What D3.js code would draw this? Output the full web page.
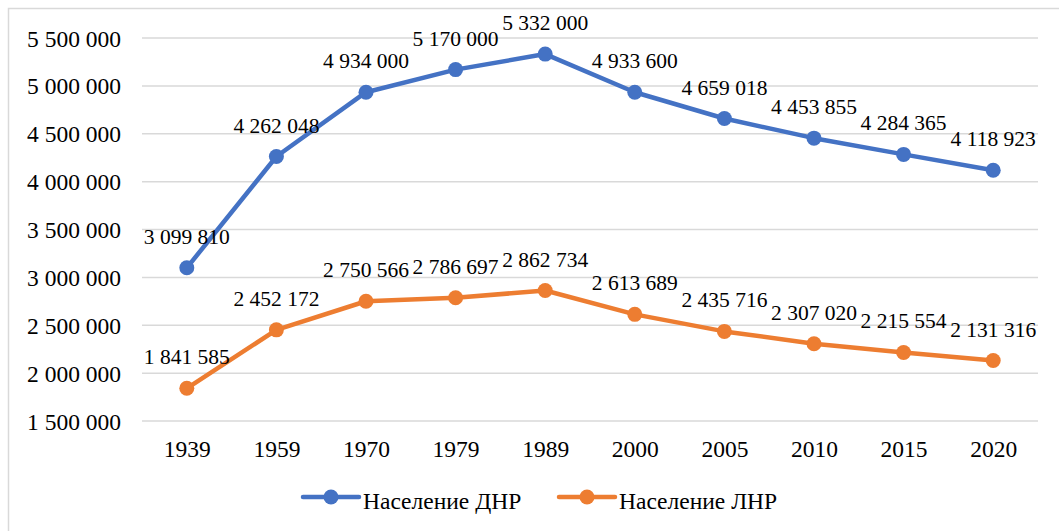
<!DOCTYPE html>
<html><head><meta charset="utf-8">
<script src="https://cdn.jsdelivr.net/npm/d3@7"></script>
<style>body{margin:0;background:#fff;font-family:'Liberation Serif',serif}svg{display:block}</style>
</head><body><svg id="c" width="1059" height="531" font-family="Liberation Serif"><g id="bg"></g><g id="legend"><text class="lg" font-family="Liberation Serif" font-size="23.5">Население ДНР</text><text class="lg" font-family="Liberation Serif" font-size="23.5">Население ЛНР</text></g></svg>
<script>
const years = ["1939","1959","1970","1979","1989","2000","2005","2010","2015","2020"];
const dnr = [3099810,4262048,4934000,5170000,5332000,4933600,4659018,4453855,4284365,4118923];
const lnr = [1841585,2452172,2750566,2786697,2862734,2613689,2435716,2307020,2215554,2131316];
const seriesNames = ["Население ДНР","Население ЛНР"];
const colors = ["#4472C4","#ED7D31"];
const yTicks = [1500000,2000000,2500000,3000000,3500000,4000000,4500000,5000000,5500000];

const FF = "Liberation Serif";
const svg = d3.select("#c");
const root = d3.select("#bg");
const loc = d3.formatLocale({decimal:",",thousands:"\u00a0",grouping:[3],currency:["",""]});
const fmt = loc.format(",d");

root.append("rect").attr("x",8.5).attr("y",8.5).attr("width",1080).attr("height",560)
  .attr("fill","none").attr("stroke","#d9d9d9").attr("stroke-width",1.5);

const x = d3.scalePoint().domain(years).range([142,1038]).padding(0.5);
const y = d3.scaleLinear().domain([1500000,5500000]).range([421,38]);

root.append("g").selectAll("line").data(yTicks).join("line")
  .attr("x1",142).attr("x2",1038).attr("y1",d=>y(d)).attr("y2",d=>y(d))
  .attr("stroke","#d9d9d9").attr("stroke-width",1.5);

const ya = root.append("g").attr("transform","translate(121,0)")
  .call(d3.axisLeft(y).tickValues(yTicks).tickFormat(fmt).tickSize(0).tickPadding(0));
ya.attr("font-family",FF).attr("font-size",23.5);
ya.select(".domain").remove();
ya.selectAll("text").attr("font-family",FF).attr("font-size",23.5).attr("fill","#000").attr("dy","0.34em");

const xa = root.append("g").call(d3.axisBottom(x).tickSize(0).tickPadding(0));
xa.attr("font-family",FF).attr("font-size",23.5);
xa.select(".domain").remove();
xa.selectAll("text").attr("font-family",FF).attr("font-size",23.5).attr("fill","#000").attr("y",457).attr("dy",0);

const line = d3.line().x((d,i)=>x(years[i])).y(d=>y(d));
[dnr,lnr].forEach((s,k)=>{
  const g = root.append("g");
  g.append("path").datum(s).attr("d",line).attr("fill","none").attr("stroke",colors[k]).attr("stroke-width",4.5).attr("stroke-linejoin","round");
  g.selectAll("circle").data(s).join("circle").attr("cx",(d,i)=>x(years[i])).attr("cy",d=>y(d)).attr("r",7.5).attr("fill",colors[k]);
  g.selectAll("text").data(s).join("text").attr("x",(d,i)=>x(years[i])).attr("y",d=>y(d)-24)
    .attr("text-anchor","middle").attr("font-family",FF).attr("font-size",21.5).attr("fill","#000").text(d=>fmt(d));
});

const leg = d3.select("#legend");
const lx = [303,559];
seriesNames.forEach((n,k)=>{
  leg.append("line").attr("x1",lx[k]).attr("x2",lx[k]+56).attr("y1",497).attr("y2",497).attr("stroke",colors[k]).attr("stroke-width",4.5).attr("stroke-linecap","round");
  leg.append("circle").attr("cx",lx[k]+28).attr("cy",497).attr("r",7.5).attr("fill",colors[k]);
});
leg.selectAll("text.lg").data(seriesNames).attr("x",(d,k)=>lx[k]+60).attr("y",509).attr("fill","#000").text(d=>d);
</script></body></html>
